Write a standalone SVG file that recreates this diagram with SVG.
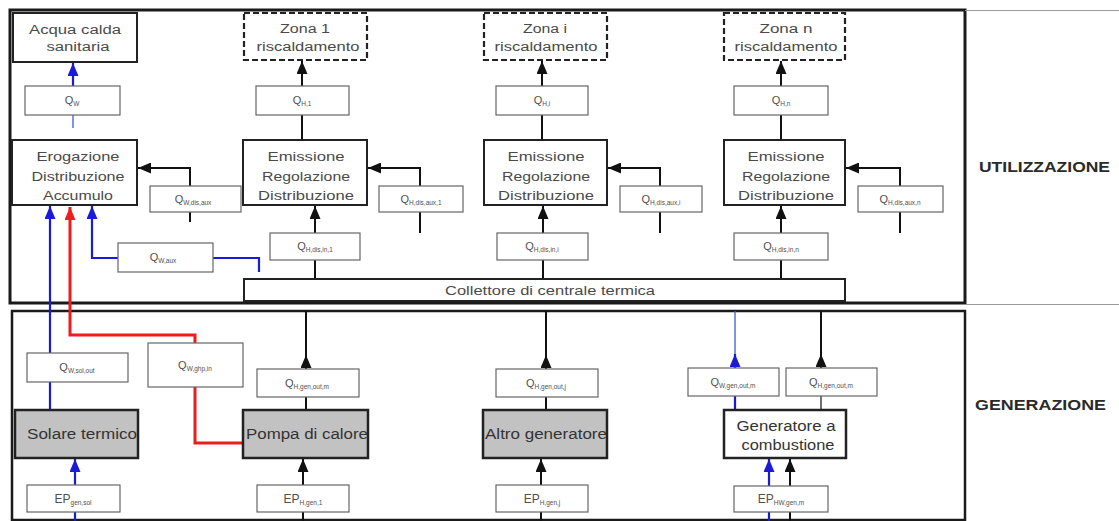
<svg xmlns="http://www.w3.org/2000/svg" width="1119" height="521" viewBox="0 0 1119 521">
  <style>
    text { font-family: "Liberation Sans", Arial, sans-serif; fill: #4a4a4a; }
    .lbl { font-size: 12.5px; text-anchor: middle; }
    .glbl { font-size: 14px; text-anchor: middle; fill: #333; }
    .ql { font-size: 11px; text-anchor: middle; fill: #505050; }
    .sub { font-size: 6.5px; }
    .side { font-size: 14px; font-weight: bold; fill: #2a2a2a; }
    .frame { fill: none; stroke: #1a1a1a; stroke-width: 3; }
    .frame2 { fill: none; stroke: #1a1a1a; stroke-width: 2.5; }
    .thin { fill: none; stroke: #999; stroke-width: 1.2; }
    .main { fill: #fff; stroke: #222; stroke-width: 2; }
    .gen { fill: #c2c2c2; stroke: #222; stroke-width: 2.5; }
    .zone { fill: #fff; stroke: #222; stroke-width: 2.2; stroke-dasharray: 6 3; }
    .q { fill: #fff; stroke: #666; stroke-width: 1.2; }
    .coll { fill: #fff; stroke: #222; stroke-width: 2; }
    .k { fill: none; stroke: #111; stroke-width: 2; }
    .kt { fill: none; stroke: #111; stroke-width: 1.2; }
    .b { fill: none; stroke: #1a1ad8; stroke-width: 2.2; }
    .bt { fill: none; stroke: #3b5bd0; stroke-width: 1.3; }
    .r { fill: none; stroke: #ee1c1c; stroke-width: 3; }
  </style>
  <defs>
    <marker id="ak" viewBox="0 0 13 11" refX="13" refY="5.5" markerWidth="13" markerHeight="11" markerUnits="userSpaceOnUse" orient="auto">
      <path d="M0,0 L13,5.5 L0,11 Z" fill="#111"/>
    </marker>
    <marker id="ab" viewBox="0 0 13 11" refX="13" refY="5.5" markerWidth="13" markerHeight="11" markerUnits="userSpaceOnUse" orient="auto">
      <path d="M0,0 L13,5.5 L0,11 Z" fill="#1a1ad8"/>
    </marker>
    <marker id="ar" viewBox="0 0 13 11" refX="13" refY="5.5" markerWidth="13" markerHeight="11" markerUnits="userSpaceOnUse" orient="auto">
      <path d="M0,0 L13,5.5 L0,11 Z" fill="#ee1c1c"/>
    </marker>
  </defs>

  <rect width="1119" height="521" fill="#fff"/>

  <!-- section frames -->
  <g id="frames">
    <rect class="frame" x="10" y="10" width="955" height="293"/>
    <rect class="frame2" x="12" y="311" width="953" height="209"/>
    <path class="thin" d="M965 10.5 H1119 M965 304.5 H1119"/>
    <text class="side" x="979" y="172" textLength="131" lengthAdjust="spacingAndGlyphs">UTILIZZAZIONE</text>
    <text class="side" x="975" y="410" textLength="131" lengthAdjust="spacingAndGlyphs">GENERAZIONE</text>
  </g>

  <!-- connectors -->
  <g id="connectors">
    <!-- domestic hot water branch -->
    <path class="b" d="M73 86 V63" marker-end="url(#ab)"/>
    <path class="bt" d="M73 115 V128"/>
    <path class="k" d="M190 222 V168 H138" marker-end="url(#ak)"/>
    <path class="b" d="M50 410 V206" marker-end="url(#ab)"/>
    <path class="b" d="M118 258 H92 V206" marker-end="url(#ab)"/>
    <path class="b" d="M213 258 H259 V272"/>
    <path class="r" d="M195 343 V335 H70 V207" marker-end="url(#ar)"/>
    <path class="r" d="M195 387 V443 H243"/>

    <!-- zone 1 -->
    <path class="k" d="M302 86 V61" marker-end="url(#ak)"/>
    <path class="k" d="M302 115 V140"/>
    <path class="k" d="M420 233 V168 H368" marker-end="url(#ak)"/>
    <path class="k" d="M315 279 V206" marker-end="url(#ak)"/>

    <!-- zone i -->
    <path class="k" d="M542 86 V61" marker-end="url(#ak)"/>
    <path class="k" d="M542 115 V140"/>
    <path class="k" d="M660 233 V168 H608" marker-end="url(#ak)"/>
    <path class="k" d="M543 279 V206" marker-end="url(#ak)"/>

    <!-- zone n -->
    <path class="k" d="M781 86 V61" marker-end="url(#ak)"/>
    <path class="k" d="M781 115 V140"/>
    <path class="k" d="M900 233 V168 H846" marker-end="url(#ak)"/>
    <path class="k" d="M781 279 V206" marker-end="url(#ak)"/>

    <!-- generators to the collector -->
    <path class="k" d="M306 410 V311"/>
    <path class="k" d="M306 369 V355" marker-end="url(#ak)"/>
    <path class="k" d="M546 410 V311"/>
    <path class="k" d="M546 369 V355" marker-end="url(#ak)"/>
    <path class="kt" d="M821 410 V396"/>
    <path class="k" d="M821 368 V311"/>
    <path class="k" d="M821 368 V354" marker-end="url(#ak)"/>
    <path class="bt" d="M735 368 V311"/>
    <path class="b" d="M735 410 V396"/>
    <path class="b" d="M735 368 V354" marker-end="url(#ab)"/>

    <!-- primary energy inputs -->
    <path class="b" d="M75 521 V459" marker-end="url(#ab)"/>
    <path class="k" d="M303 521 V459" marker-end="url(#ak)"/>
    <path class="k" d="M541 521 V459" marker-end="url(#ak)"/>
    <path class="b" d="M769 521 V459" marker-end="url(#ab)"/>
    <path class="k" d="M790 521 V459" marker-end="url(#ak)"/>
  </g>

  <!-- utilisation: domestic hot water -->
  <g id="acqua-calda">
    <rect class="main" x="13" y="13" width="124" height="49"/>
    <text class="lbl" x="75" y="34" textLength="92" lengthAdjust="spacingAndGlyphs">Acqua calda</text>
    <text class="lbl" x="78" y="51" textLength="63" lengthAdjust="spacingAndGlyphs">sanitaria</text>
  </g>
  <g id="q-w">
    <rect class="q" x="25" y="86" width="95" height="29"/>
    <text class="ql" x="72" y="104">Q<tspan class="sub" dy="2">W</tspan></text>
  </g>
  <g id="erogazione">
    <rect class="main" x="12" y="140" width="125" height="65"/>
    <text class="lbl" x="78" y="161" textLength="83" lengthAdjust="spacingAndGlyphs">Erogazione</text>
    <text class="lbl" x="78" y="181" textLength="93" lengthAdjust="spacingAndGlyphs">Distribuzione</text>
    <text class="lbl" x="78" y="200" textLength="70" lengthAdjust="spacingAndGlyphs">Accumulo</text>
  </g>
  <g id="q-w-dis-aux">
    <rect class="q" x="150" y="186" width="91" height="26"/>
    <text class="ql" x="193" y="203">Q<tspan class="sub" dy="2">W,dis,aux</tspan></text>
  </g>
  <g id="q-w-aux">
    <rect class="q" x="118" y="243" width="95" height="29"/>
    <text class="ql" x="163" y="261">Q<tspan class="sub" dy="2">W,aux</tspan></text>
  </g>

  <!-- utilisation: heating zone 1 -->
  <g id="zona-1">
    <rect class="zone" x="244" y="13" width="123" height="47"/>
    <text class="lbl" x="305" y="33" textLength="50" lengthAdjust="spacingAndGlyphs">Zona 1</text>
    <text class="lbl" x="308" y="51" textLength="103" lengthAdjust="spacingAndGlyphs">riscaldamento</text>
  </g>
  <g id="q-h-1">
    <rect class="q" x="256" y="86" width="93" height="29"/>
    <text class="ql" x="302" y="104">Q<tspan class="sub" dy="2">H,1</tspan></text>
  </g>
  <g id="emissione-1">
    <rect class="main" x="243" y="140" width="124" height="65"/>
    <text class="lbl" x="306" y="161" textLength="77" lengthAdjust="spacingAndGlyphs">Emissione</text>
    <text class="lbl" x="306" y="181" textLength="88" lengthAdjust="spacingAndGlyphs">Regolazione</text>
    <text class="lbl" x="306" y="200" textLength="96" lengthAdjust="spacingAndGlyphs">Distribuzione</text>
  </g>
  <g id="q-h-dis-aux-1">
    <rect class="q" x="379" y="186" width="84" height="26"/>
    <text class="ql" x="421" y="203">Q<tspan class="sub" dy="2">H,dis,aux,1</tspan></text>
  </g>
  <g id="q-h-dis-in-1">
    <rect class="q" x="270" y="233" width="90" height="27"/>
    <text class="ql" x="315" y="250">Q<tspan class="sub" dy="2">H,dis,in,1</tspan></text>
  </g>

  <!-- utilisation: heating zone i -->
  <g id="zona-i">
    <rect class="zone" x="484" y="13" width="123" height="47"/>
    <text class="lbl" x="545" y="33" textLength="44" lengthAdjust="spacingAndGlyphs">Zona i</text>
    <text class="lbl" x="546" y="51" textLength="103" lengthAdjust="spacingAndGlyphs">riscaldamento</text>
  </g>
  <g id="q-h-i">
    <rect class="q" x="496" y="86" width="92" height="29"/>
    <text class="ql" x="542" y="104">Q<tspan class="sub" dy="2">H,i</tspan></text>
  </g>
  <g id="emissione-i">
    <rect class="main" x="484" y="140" width="123" height="65"/>
    <text class="lbl" x="546" y="161" textLength="77" lengthAdjust="spacingAndGlyphs">Emissione</text>
    <text class="lbl" x="546" y="181" textLength="88" lengthAdjust="spacingAndGlyphs">Regolazione</text>
    <text class="lbl" x="546" y="200" textLength="96" lengthAdjust="spacingAndGlyphs">Distribuzione</text>
  </g>
  <g id="q-h-dis-aux-i">
    <rect class="q" x="620" y="186" width="82" height="26"/>
    <text class="ql" x="661" y="203">Q<tspan class="sub" dy="2">H,dis,aux,i</tspan></text>
  </g>
  <g id="q-h-dis-in-i">
    <rect class="q" x="497" y="233" width="91" height="27"/>
    <text class="ql" x="542" y="250">Q<tspan class="sub" dy="2">H,dis,in,i</tspan></text>
  </g>

  <!-- utilisation: heating zone n -->
  <g id="zona-n">
    <rect class="zone" x="724" y="13" width="121" height="47"/>
    <text class="lbl" x="786" y="33" textLength="53" lengthAdjust="spacingAndGlyphs">Zona n</text>
    <text class="lbl" x="786" y="51" textLength="103" lengthAdjust="spacingAndGlyphs">riscaldamento</text>
  </g>
  <g id="q-h-n">
    <rect class="q" x="734" y="86" width="94" height="29"/>
    <text class="ql" x="781" y="104">Q<tspan class="sub" dy="2">H,n</tspan></text>
  </g>
  <g id="emissione-n">
    <rect class="main" x="724" y="140" width="121" height="65"/>
    <text class="lbl" x="786" y="161" textLength="77" lengthAdjust="spacingAndGlyphs">Emissione</text>
    <text class="lbl" x="786" y="181" textLength="88" lengthAdjust="spacingAndGlyphs">Regolazione</text>
    <text class="lbl" x="786" y="200" textLength="96" lengthAdjust="spacingAndGlyphs">Distribuzione</text>
  </g>
  <g id="q-h-dis-aux-n">
    <rect class="q" x="858" y="186" width="85" height="26"/>
    <text class="ql" x="900" y="203">Q<tspan class="sub" dy="2">H,dis,aux,n</tspan></text>
  </g>
  <g id="q-h-dis-in-n">
    <rect class="q" x="734" y="233" width="94" height="27"/>
    <text class="ql" x="781" y="250">Q<tspan class="sub" dy="2">H,dis,in,n</tspan></text>
  </g>

  <g id="collettore">
    <rect class="coll" x="244" y="279" width="601" height="22"/>
    <text class="lbl" x="550" y="295" textLength="210" lengthAdjust="spacingAndGlyphs">Collettore di centrale termica</text>
  </g>

  <!-- generation: solar thermal -->
  <g id="q-w-sol-out">
    <rect class="q" x="27" y="353" width="101" height="29"/>
    <text class="ql" x="77" y="371">Q<tspan class="sub" dy="2">W,sol,out</tspan></text>
  </g>
  <g id="solare-termico">
    <rect class="gen" x="15" y="410" width="123" height="48"/>
    <text class="glbl" x="82" y="439" textLength="110" lengthAdjust="spacingAndGlyphs">Solare termico</text>
  </g>
  <g id="ep-gen-sol">
    <rect class="q" x="27" y="485" width="93" height="27"/>
    <text class="ql" x="73" y="503" style="font-size:12px">EP<tspan class="sub" dy="2">gen,sol</tspan></text>
  </g>

  <!-- generation: heat pump -->
  <g id="q-w-ghp-in">
    <rect class="q" x="148" y="343" width="95" height="44"/>
    <text class="ql" x="195" y="369">Q<tspan class="sub" dy="2">W,ghp,in</tspan></text>
  </g>
  <g id="q-h-gen-out-1">
    <rect class="q" x="257" y="369" width="102" height="28"/>
    <text class="ql" x="307" y="387">Q<tspan class="sub" dy="2">H,gen,out,m</tspan></text>
  </g>
  <g id="pompa-di-calore">
    <rect class="gen" x="243" y="410" width="125" height="48"/>
    <text class="glbl" x="307" y="439" textLength="122" lengthAdjust="spacingAndGlyphs">Pompa di calore</text>
  </g>
  <g id="ep-h-gen-1">
    <rect class="q" x="257" y="485" width="92" height="27"/>
    <text class="ql" x="303" y="503" style="font-size:12px">EP<tspan class="sub" dy="2">H,gen,1</tspan></text>
  </g>

  <!-- generation: other generator -->
  <g id="q-h-gen-out-j">
    <rect class="q" x="496" y="369" width="102" height="28"/>
    <text class="ql" x="546" y="387">Q<tspan class="sub" dy="2">H,gen,out,j</tspan></text>
  </g>
  <g id="altro-generatore">
    <rect class="gen" x="483" y="410" width="124" height="48"/>
    <text class="glbl" x="546" y="439" textLength="122" lengthAdjust="spacingAndGlyphs">Altro generatore</text>
  </g>
  <g id="ep-h-gen-j">
    <rect class="q" x="496" y="485" width="92" height="27"/>
    <text class="ql" x="542" y="503" style="font-size:12px">EP<tspan class="sub" dy="2">H,gen,j</tspan></text>
  </g>

  <!-- generation: combustion boiler -->
  <g id="q-w-gen-out-m">
    <rect class="q" x="688" y="368" width="91" height="28"/>
    <text class="ql" x="733" y="386">Q<tspan class="sub" dy="2">W,gen,out,m</tspan></text>
  </g>
  <g id="q-h-gen-out-m">
    <rect class="q" x="786" y="368" width="91" height="28"/>
    <text class="ql" x="831" y="386">Q<tspan class="sub" dy="2">H,gen,out,m</tspan></text>
  </g>
  <g id="generatore-combustione">
    <rect class="main" x="724" y="410" width="122" height="48" style="stroke-width:2.5"/>
    <text class="glbl" x="786" y="431" textLength="99" lengthAdjust="spacingAndGlyphs">Generatore a</text>
    <text class="glbl" x="788" y="450" textLength="93" lengthAdjust="spacingAndGlyphs">combustione</text>
  </g>
  <g id="ep-hw-gen-m">
    <rect class="q" x="734" y="486" width="94" height="26"/>
    <text class="ql" x="781" y="503" style="font-size:12px">EP<tspan class="sub" dy="2">HW,gen,m</tspan></text>
  </g>
</svg>
